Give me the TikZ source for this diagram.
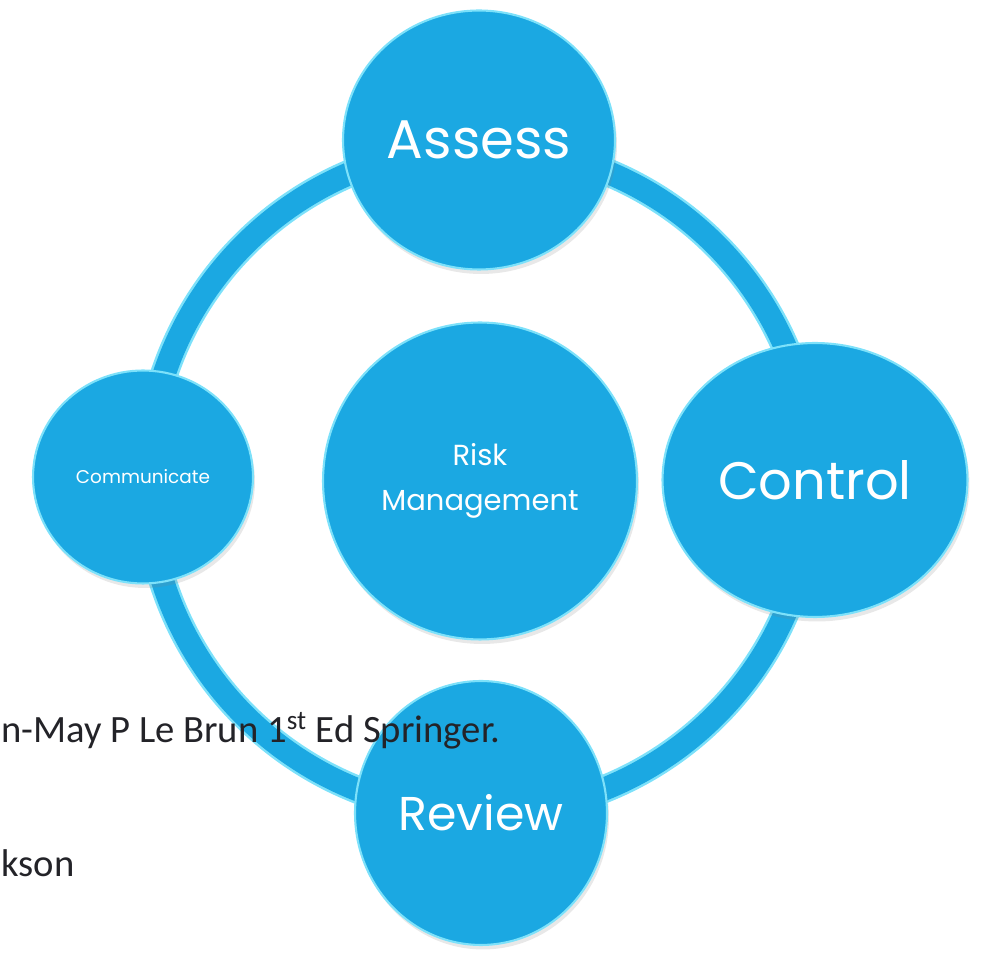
\documentclass[tikz,border=0pt]{standalone}
\usepackage{fontspec}
\setmainfont{Poppins}
\newfontfamily\citefont{Carlito}
\usetikzlibrary{shapes.geometric,shadows}
\definecolor{sky}{RGB}{27,168,226}
\definecolor{rim}{RGB}{125,225,250}
\definecolor{ink}{RGB}{35,35,40}
\tikzset{
  bubble/.style 2 args={ellipse,minimum width=#1,minimum height=#2,inner sep=0pt,
    fill=sky,draw=rim,line width=1.2pt,text=white,align=center,
    drop shadow={opacity=0.18,shadow xshift=0.4mm,shadow yshift=-0.9mm}},
  label font/.style={font=\fontsize{#1}{#1}\selectfont},
  ref/.style={font=\citefont\fontsize{22}{26}\selectfont,text=ink,inner sep=0pt},
}
\begin{document}
\begin{tikzpicture}[x=0.02cm,y=-0.02cm]
  \useasboundingbox (0,0) rectangle (992,962);
  % ring behind the bubbles
  \coordinate (hub) at (480,480);
  \draw[rim,line width=0.56cm] (hub) circle[radius=333];
  \draw[sky,line width=0.46cm] (hub) circle[radius=333];
  % bubbles
  \node[bubble={5.44cm}{5.18cm},label font=31] (assess) at (479,140) {Assess};
  \node[bubble={6.1cm}{5.48cm},label font=30] (control) at (815,480) {Control};
  \node[bubble={4.4cm}{4.26cm},label font=10.5] (comm) at (143,477) {Communicate};
  \node[bubble={5.04cm}{5.28cm},label font=27] (review) at (481,813) {Review};
  \node[bubble={6.28cm}{6.34cm},font=\fontsize{16.5}{25.5}\selectfont] (risk) at (480,481) {Risk\\Management};
  % text of the slide behind
  \node[ref,anchor=base west] (cite) at (1,743) {n-May P Le Brun 1\textsuperscript{st} Ed Springer.};
  \node[ref,anchor=base west] (cite2) at (1,877) {kson};
\end{tikzpicture}
\end{document}
